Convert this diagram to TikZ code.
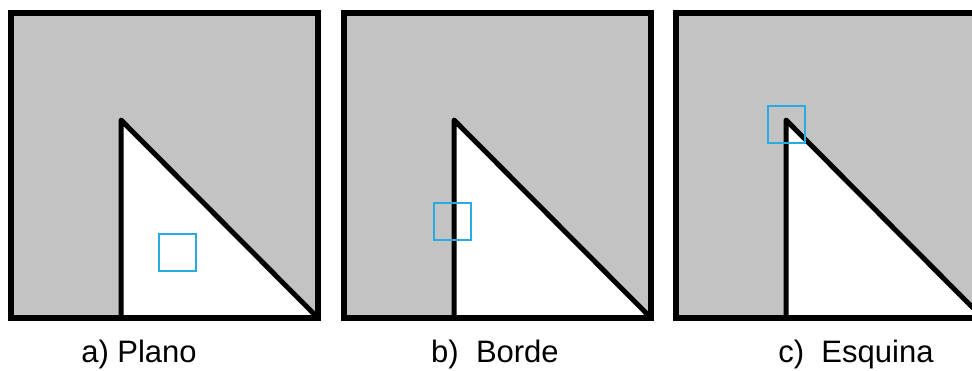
\documentclass[tikz,border=0pt]{standalone}
\usepackage{fontspec}
\setmainfont{Liberation Sans}
\definecolor{panelgray}{RGB}{195,195,195}
\definecolor{markblue}{RGB}{41,171,226}
\tikzset{
  outline/.style={draw=black, line width=5.5pt, line join=miter},
  edge/.style={draw=black, line width=5pt, line join=round, line cap=butt},
  marker/.style={draw=markblue, line width=1.8pt},
  caption/.style={font=\fontsize{31}{35}\selectfont, anchor=base}
}
\begin{document}
\begin{tikzpicture}[x=1pt,y=-1pt]
\useasboundingbox (0,0) rectangle (972,370);
\clip (0,0) rectangle (972,370);
\foreach \ox/\bx/\by/\nm in {11/148/234/a, 344/90/203/b, 676/92/106/c}{
  \begin{scope}[shift={(\ox,0)}]
    \coordinate (tl\nm) at (0,13);
    \coordinate (br\nm) at (307,318);
    \coordinate (v\nm) at (110,120);
    \coordinate (vb\nm) at (110,318);
    \fill[panelgray] (tl\nm) rectangle (br\nm);
    \fill[white] (v\nm) -- (vb\nm) -- (br\nm) -- cycle;
    \draw[edge] (vb\nm) -- (v\nm) -- (br\nm);
    \draw[outline] (tl\nm) rectangle (br\nm);
    \draw[marker] (\bx,\by) rectangle ++(37,37);
  \end{scope}
}
\node[caption] (la) at (139,362) {a) Plano};
\node[caption] (lb) at (495,362) {b)\ \ Borde};
\node[caption] (lc) at (856,362) {c)\ \ Esquina};
\end{tikzpicture}
\end{document}
